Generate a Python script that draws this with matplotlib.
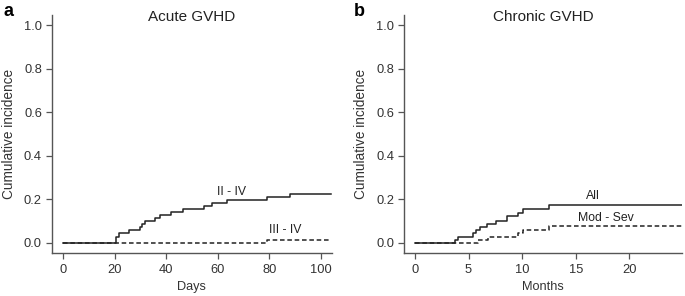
import matplotlib
matplotlib.use('Agg')
import matplotlib.pyplot as plt

plt.rcParams['font.family'] = ['Liberation Sans', 'DejaVu Sans']

# Acute GVHD (days)
acute_end = 104
acute_24_days = [20.5, 21.8, 25.7, 29.8, 30.7, 31.8, 35.7, 37.7, 41.9, 46.6, 54.8, 57.6, 63.8, 79, 88]
acute_24_ci = [0.027, 0.043, 0.057, 0.071, 0.086, 0.100, 0.113, 0.128, 0.141, 0.155, 0.169, 0.183, 0.197, 0.211, 0.225]
acute_34_days = [79]
acute_34_ci = [0.015]

# Chronic GVHD (months)
chronic_end = 24.9
chronic_all_months = [3.7, 4.0, 5.4, 5.7, 6.05, 6.7, 7.6, 8.6, 9.6, 10.1, 12.5]
chronic_all_ci = [0.014, 0.029, 0.044, 0.058, 0.072, 0.087, 0.101, 0.123, 0.139, 0.155, 0.173]
chronic_ms_months = [5.9, 6.8, 9.6, 10.1, 12.5]
chronic_ms_ci = [0.015, 0.029, 0.044, 0.058, 0.075]

ink = '#222222'
spine_col = '#555555'
txt_col = '#333333'


def step_curve(ax, times, vals, end, **kw):
    x = [0] + list(times) + [end]
    y = [0] + list(vals) + [vals[-1]]
    ax.step(x, y, where='post', color=ink, lw=1.1, **kw)


def style_axes(ax, xlim, xticks, xlabel, ylab_x):
    ax.set_xlim(*xlim)
    ax.set_ylim(-0.048, 1.046)
    ax.set_xticks(xticks)
    ax.set_yticks([0, 0.2, 0.4, 0.6, 0.8, 1.0])
    ax.set_yticklabels(['0.0', '0.2', '0.4', '0.6', '0.8', '1.0'])
    for s in ['top', 'right']:
        ax.spines[s].set_visible(False)
    for s in ['left', 'bottom']:
        ax.spines[s].set_color(spine_col)
        ax.spines[s].set_linewidth(1.0)
    ax.tick_params(axis='both', direction='out', length=4, width=0.9,
                   color=spine_col, labelsize=9.3, labelcolor=txt_col)
    ax.tick_params(axis='x', pad=4)
    ax.tick_params(axis='y', pad=3)
    ax.set_xlabel(xlabel, fontsize=9.2, color=txt_col)
    ax.set_ylabel('Cumulative incidence', fontsize=9.8, color=txt_col)
    ax.xaxis.set_label_coords(0.5, -0.118)
    ax.yaxis.set_label_coords(ylab_x, 0.5)


fig = plt.figure(figsize=(6.85, 2.96), dpi=100)
ax1 = fig.add_axes([0.0755, 0.1443, 0.409, 0.805])
ax2 = fig.add_axes([0.590, 0.1443, 0.4056, 0.805])

# panel a
step_curve(ax1, acute_34_days, acute_34_ci, acute_end, dashes=(3, 1.8))
step_curve(ax1, acute_24_days, acute_24_ci, acute_end)
style_axes(ax1, (-4.4, 104.3), [0, 20, 40, 60, 80, 100], 'Days', -0.127)
ax1.text(65.5, 0.233, 'II - IV', ha='center', va='center', fontsize=8.8, color=ink)
ax1.text(86, 0.058, 'III - IV', ha='center', va='center', fontsize=8.8, color=ink)

# panel b
step_curve(ax2, chronic_ms_months, chronic_ms_ci, chronic_end, dashes=(3, 1.8))
step_curve(ax2, chronic_all_months, chronic_all_ci, chronic_end)
style_axes(ax2, (-1.0, 24.9), [0, 5, 10, 15, 20], 'Months', -0.131)
ax2.text(16.6, 0.215, 'All', ha='center', va='center', fontsize=8.8, color=ink)
ax2.text(17.8, 0.116, 'Mod - Sev', ha='center', va='center', fontsize=8.8, color=ink)

# titles and panel letters
fig.text(0.2803, 0.9436, 'Acute GVHD', ha='center', va='center', fontsize=11, color=ink)
fig.text(0.7927, 0.9436, 'Chronic GVHD', ha='center', va='center', fontsize=11, color=ink)
fig.text(0.012, 0.962, 'a', ha='center', va='center', fontsize=13, fontweight='bold', color='black')
fig.text(0.524, 0.962, 'b', ha='center', va='center', fontsize=13, fontweight='bold', color='black')

fig.savefig('out.png', dpi=100)
